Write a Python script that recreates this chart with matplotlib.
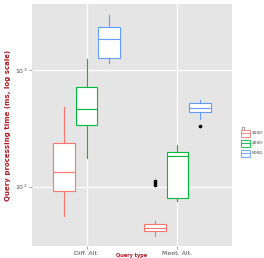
import numpy as np
import matplotlib
matplotlib.use("Agg")
import matplotlib.pyplot as plt
from matplotlib.patches import Rectangle

# data (ms)
operations = ["Diff. Alt.", "Meet. Alt."]
sizes = ["1000", "2000", "5000"]
colors = ["#F8766D", "#00BA38", "#619CFF"]

# box stats per (operation, n): whislo, q1, median, q3, whishi
diff_stats = [
    [56, 91, 135, 239, 480],
    [178, 336, 461, 713, 1245],
    [1148, 1268, 1849, 2350, 2978],
]
meet_stats = [
    [37.8, 41.8, 44.4, 48, 51],
    [76, 80, 185, 200, 230],
    [378, 434, 470, 520, 551],
]
diff_fliers = [[], [], []]
meet_fliers = [[104, 108, 112], [], [329]]

fig = plt.figure(figsize=(2.64, 2.58), dpi=100)
ax = fig.add_axes([32 / 264, 12 / 258, 200 / 264, 242 / 258])
ax.set_facecolor("#E5E5E5")

dodge = 0.25
for oi, (stats, fliers) in enumerate([(diff_stats, diff_fliers), (meet_stats, meet_fliers)]):
    for si in range(3):
        lo, q1, med, q3, hi = stats[si]
        st = dict(whislo=lo, q1=q1, med=med, q3=q3, whishi=hi, fliers=fliers[si])
        pos = oi + 1 + (si - 1) * dodge
        c = colors[si]
        ax.bxp([st], positions=[pos], widths=0.24, showcaps=False, patch_artist=True,
               boxprops=dict(facecolor="white", edgecolor=c, linewidth=0.8),
               medianprops=dict(color=c, linewidth=0.8),
               whiskerprops=dict(color=c, linewidth=0.8),
               flierprops=dict(marker="o", markerfacecolor="black", markeredgecolor="black",
                               markersize=1.6),
               zorder=3)

ax.set_yscale("log")
ax.set_ylim(10 ** 1.491, 10 ** 3.569)
ax.set_xlim(0.4, 2.6)
ax.set_yticks([100, 1000])
ax.set_yticklabels([r"$10^2$", r"$10^3$"])
ax.yaxis.set_minor_locator(matplotlib.ticker.NullLocator())
ax.set_xticks([1, 2])
ax.set_xticklabels(operations)
ax.grid(True, color="white", linewidth=0.9, zorder=0)
ax.set_axisbelow(True)
for s in ax.spines.values():
    s.set_visible(False)
ax.tick_params(axis="both", length=2, width=0.5, color="#7F7F7F", labelsize=4.5,
               labelcolor="#4D4D4D", pad=1.5)

ax.set_ylabel("Query processing time (ms, log scale)", color="#B0171F", fontsize=5,
              fontweight="bold", labelpad=3)
# x title sits right at the bottom edge
fig.text(132 / 264, 0.5 / 258, "Query type", color="#B0171F", fontsize=3.6,
         fontweight="bold", ha="center", va="bottom")

# legend
fig.text(241 / 264, 1 - 128 / 258, "n", fontsize=3.6, color="#333333", va="center")
for si in range(3):
    yc = 1 - (133 + si * 10) / 258
    fig.patches.append(Rectangle((241 / 264, yc - 3.5 / 258), 9 / 264, 7 / 258,
                                 transform=fig.transFigure, facecolor="white",
                                 edgecolor=colors[si], linewidth=0.6))
    fig.lines.append(plt.Line2D([241 / 264, 250 / 264], [yc, yc], transform=fig.transFigure,
                                color=colors[si], linewidth=0.6))
    fig.text(251.5 / 264, yc, sizes[si], fontsize=3.2, color="#333333", va="center")

fig.savefig("out.png", dpi=100)
